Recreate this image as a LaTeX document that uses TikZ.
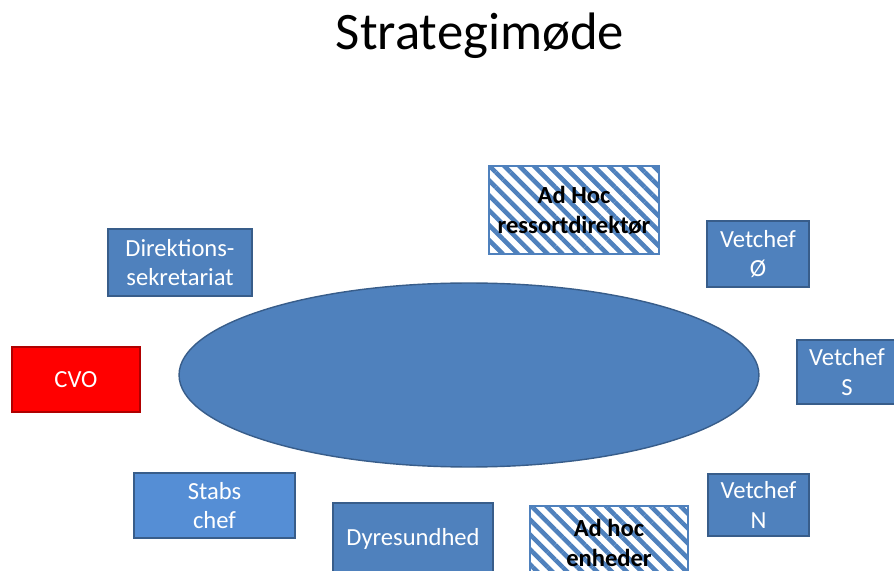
\documentclass[tikz,border=0pt]{standalone}
\usepackage{fontspec}
\setmainfont{Carlito}
\usetikzlibrary{shapes.geometric,patterns.meta}

\definecolor{boxblue}{HTML}{4F81BD}
\definecolor{boxedge}{HTML}{385D8A}
\definecolor{lightblue}{HTML}{558ED5}
\definecolor{cvoedge}{HTML}{B00000}

\begin{document}
\begin{tikzpicture}[x=0.02cm,y=-0.02cm]
        \useasboundingbox (0,0) rectangle (894,571);
        \clip (0,0) rectangle (894,571);

        \node (title) at (480,36) {\fontsize{30}{34}\selectfont Strategimøde};

        \node[ellipse, fill=boxblue, draw=boxedge, thick,
              minimum width=11.6cm, minimum height=3.68cm] (table) at (469,375) {};

        \begin{scope}[every node/.style = {rectangle, draw=boxedge, thick, fill=boxblue,
                          text=white, align=center, font=\fontsize{14}{17}\selectfont}]
            \node[minimum width=2.88cm, minimum height=1.34cm] (dir)  at (180,262.5) {Direktions-\\sekretariat};
            \node[minimum width=2.04cm, minimum height=1.32cm] (vetO) at (758,254)   {Vetchef\\Ø};
            \node[minimum width=2.0cm,  minimum height=1.28cm] (vetS) at (847,372)   {Vetchef\\S};
            \node[minimum width=2.02cm, minimum height=1.24cm] (vetN) at (758.5,505) {Vetchef\\N};

            \node[minimum width=2.56cm, minimum height=1.3cm, fill=red, draw=cvoedge] (cvo) at (76,379.5) {CVO};

            \node[minimum width=3.22cm, minimum height=1.3cm, fill=lightblue] (stabs) at (214.5,505.5) {Stabs\\chef};
            \node[minimum width=3.2cm,  minimum height=1.44cm] (dyr) at (413,539) {Dyresundhed};
        \end{scope}

        \begin{scope}[every node/.style = {rectangle, draw=boxblue, thick, text=black,
                          align=center, font=\fontsize{14}{17}\selectfont\bfseries,
                          pattern={Lines[angle=-45,distance=6pt,line width=2.6pt]},
                          pattern color=boxblue}]
            \node[minimum width=3.4cm,  minimum height=1.76cm] (hoc) at (574,210) {Ad Hoc\\ressortdirektør};
            \node[minimum width=3.16cm, minimum height=1.48cm] (enh) at (609,543) {Ad hoc\\enheder};
        \end{scope}
\end{tikzpicture}
\end{document}
